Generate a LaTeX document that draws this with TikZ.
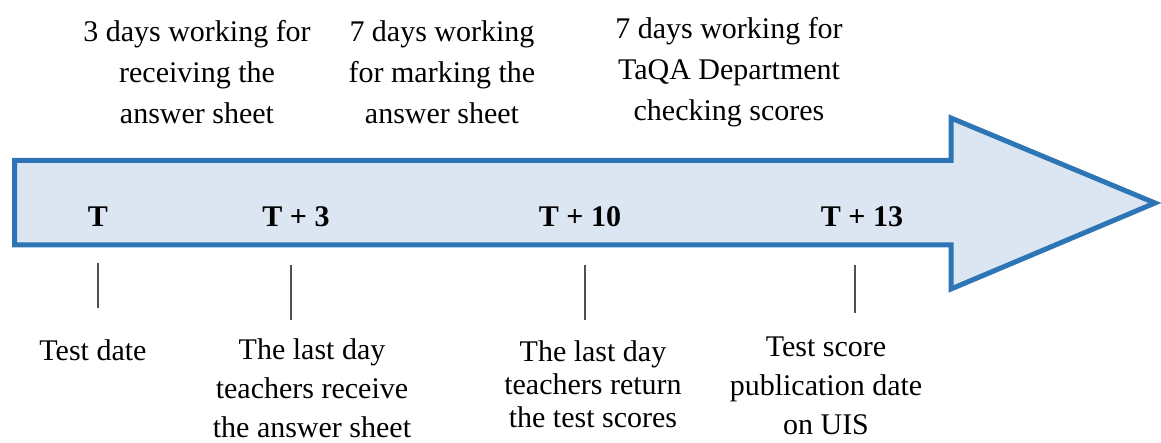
\documentclass[tikz,border=0pt]{standalone}
\usepackage{fontspec}
\setmainfont{Liberation Serif}
\definecolor{arrowfill}{RGB}{220,230,242}
\definecolor{arrowedge}{RGB}{46,117,182}
\definecolor{tickgray}{RGB}{80,80,80}
\begin{document}
\begin{tikzpicture}[x=1pt,y=-1pt,
  note/.style={align=center,font=\fontsize{30}{41}\selectfont,inner sep=0pt},
  tight/.style={align=center,font=\fontsize{30}{33}\selectfont,inner sep=0pt},
  mark label/.style={font=\fontsize{30}{36}\selectfont\bfseries,inner sep=0pt},
  tickline/.style={draw=tickgray,line width=1.3pt}]
\useasboundingbox (0,0) rectangle (1161,443);

% timeline arrow
\draw[fill=arrowfill,draw=arrowedge,line width=5pt,line join=miter]
  (14.5,160.5) -- (951,160.5) -- (951,118) -- (1155,203) -- (951,289)
  -- (951,245) -- (14.5,245) -- cycle;

% milestones on the arrow
\node[mark label] (t0)  at (98,217)  {T};
\node[mark label] (t3)  at (296,217) {T + 3};
\node[mark label] (t10) at (580,217) {T + 10};
\node[mark label] (t13) at (862,217) {T + 13};

% working periods above the arrow
\node[note] (p1) at (197,72) {3 days working for\\receiving the\\answer sheet};
\node[note] (p2) at (442,72) {7 days working\\for marking the\\answer sheet};
\node[note] (p3) at (729,72) {7 days working for\\TaQA Department\\checking scores};

% events below the arrow
\node[note] (e0)  at (93,350)  {Test date};
\node[note,font=\fontsize{30}{39}\selectfont] (e3) at (312,388) {The last day\\teachers receive\\the answer sheet};
\node[tight] (e10) at (593,384) {The last day\\teachers return\\the test scores};
\node[note,font=\fontsize{30}{39}\selectfont] (e13) at (826,386) {Test score\\publication date\\on UIS};

% tick marks
\coordinate (a0) at (98,263);  \coordinate (b0) at (98,308);
\coordinate (a3) at (291,265); \coordinate (b3) at (291,320);
\coordinate (a10) at (585,265); \coordinate (b10) at (585,320);
\coordinate (a13) at (855,265); \coordinate (b13) at (855,313);
\draw[tickline] (a0) -- (b0);
\draw[tickline] (a3) -- (b3);
\draw[tickline] (a10) -- (b10);
\draw[tickline] (a13) -- (b13);
\end{tikzpicture}
\end{document}
